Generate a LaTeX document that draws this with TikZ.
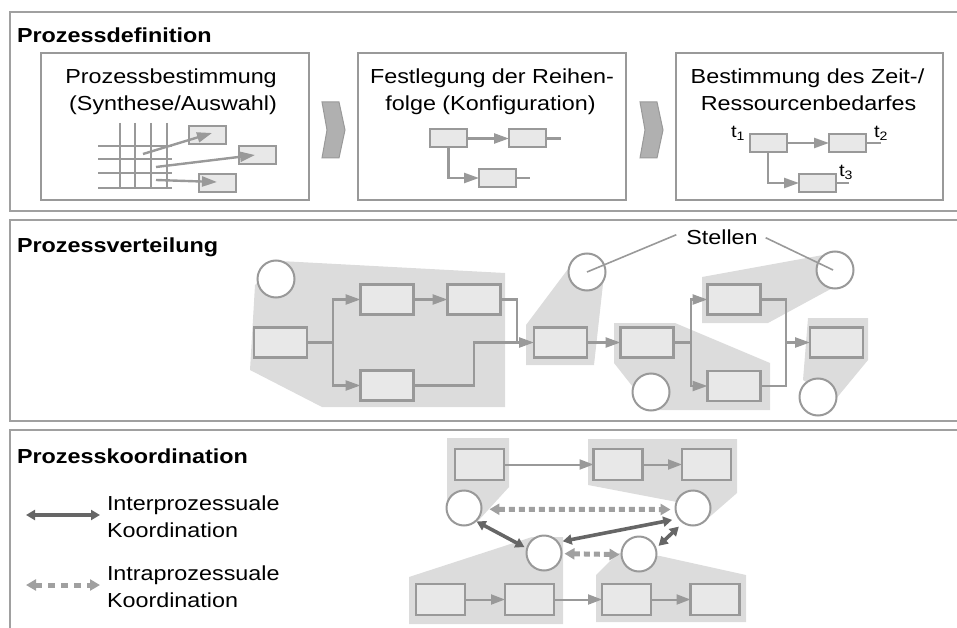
\documentclass[tikz,border=0pt]{standalone}
\usepackage{fontspec}
\setmainfont{Liberation Sans}[FakeStretch=1.15]
\usetikzlibrary{arrows.meta}
\definecolor{frame}{HTML}{A0A0A0}
\definecolor{edge}{HTML}{999999}
\definecolor{boxfill}{HTML}{E8E8E8}
\definecolor{zonefill}{HTML}{DCDCDC}
\definecolor{chevfill}{HTML}{B0B0B0}
\definecolor{darkline}{HTML}{666666}
\definecolor{lightline}{HTML}{A0A0A0}
\begin{document}
\begin{tikzpicture}[x=1pt,y=-1pt,
  every node/.style={inner sep=0pt,outer sep=0pt},
  txt/.style={font=\fontsize{20.3}{27}\selectfont,anchor=base},
  ltxt/.style={font=\fontsize{20.3}{27}\selectfont,anchor=base west},
  title/.style={font=\fontsize{20.3}{27}\selectfont\bfseries,anchor=base west},
  tlabel/.style={font=\fontsize{17.5}{20}\selectfont,anchor=base west},
  panel/.style={draw=frame,line width=2pt},
  stage/.style={draw=edge,line width=2pt,fill=white},
  mini/.style={draw=edge,line width=2pt,fill=boxfill,minimum width=37pt,minimum height=18pt},
  task/.style={draw=edge,line width=2.6pt,fill=boxfill,minimum width=53pt,minimum height=30pt},
  ctask/.style={draw=edge,line width=2.4pt,fill=boxfill,minimum width=49pt,minimum height=31pt},
  place/.style={circle,draw=edge,line width=2pt,fill=white,minimum size=37pt},
  cplace/.style={circle,draw=edge,line width=2pt,fill=white,minimum size=35pt},
  zone/.style={fill=zonefill},
  chevron/.style={fill=chevfill,draw=edge,line width=1pt},
  gridline/.style={draw=edge,line width=2pt},
  ln/.style={draw=edge,line width=2.4pt},
  arr/.style={ln,-{Triangle[length=15pt,width=10pt]}},
  carr/.style={draw=edge,line width=2pt,-{Triangle[length=14pt,width=10pt]}},
  lead/.style={draw=edge,line width=1.6pt},
  inter/.style={draw=darkline,line width=3.6pt,
    {Triangle[length=9pt,width=10pt]}-{Triangle[length=9pt,width=10pt]}},
  intra/.style={draw=lightline,line width=5pt,dash pattern=on 6pt off 4pt,
    {Triangle[length=10pt,width=11pt]}-{Triangle[length=10pt,width=11pt]}},
]
\useasboundingbox (0,0) rectangle (957,628);

% ---------- panel frames (open to the right) ----------
\draw[panel] (10,12) rectangle (980,211);
\draw[panel] (10,220) rectangle (980,421);
\draw[panel] (10,430) rectangle (980,650);

\node[title] (h1) at (17,43) {Prozessdefinition};
\node[title] (h2) at (17,252) {Prozessverteilung};
\node[title] (h3) at (17,463.5) {Prozesskoordination};

% ---------- Prozessdefinition ----------
\node[stage,minimum width=268pt,minimum height=147pt] (s1) at (175,126.5) {};
\node[stage,minimum width=268pt,minimum height=147pt] (s2) at (492,126.5) {};
\node[stage,minimum width=267pt,minimum height=147pt] (s3) at (809.5,126.5) {};

\node[txt] (s1a) at (171,83.5) {Prozessbestimmung};
\node[txt] (s1b) at (173,110.5) {(Synthese/Auswahl)};
\node[txt] (s2a) at (492,83.5) {Festlegung der Reihen-};
\node[txt] (s2b) at (490.5,110.5) {folge (Konfiguration)};
\node[txt] (s3a) at (807.5,83.5) {Bestimmung des Zeit-/};
\node[txt] (s3b) at (808.5,110.5) {Ressourcenbedarfes};

% chevrons between the stages
\draw[chevron] (322,102) -- (339,102) -- (345,130) -- (339,158) -- (322,158) -- (327,130) -- cycle;
\draw[chevron] (640,102) -- (657,102) -- (663,130) -- (657,158) -- (640,158) -- (645,130) -- cycle;

% selection grid
\foreach \x in {120,135,151,167} \draw[gridline] (\x,123) -- (\x,188);
\foreach \y in {146,159,173,188} \draw[gridline] (98,\y) -- (172,\y);
\node[mini] (mA) at (207,135) {};
\node[mini] (mB) at (257,155) {};
\node[mini] (mC) at (217,183) {};
\coordinate (g1) at (143,154);
\coordinate (g2) at (156,167);
\coordinate (g3) at (156,180);
\draw[arr] (g1) -- ([xshift=5pt,yshift=2pt]mA.center);
\draw[arr] (g2) -- ([xshift=-2pt]mB.center);
\draw[arr] (g3) -- ([yshift=1pt]mC.center);

% sequence
\node[mini] (k1) at (448.5,138.5) {};
\node[mini] (k2) at (527.5,138.5) {};
\node[mini] (k3) at (497.5,178) {};
\draw[arr] (k1) -- (k2);
\draw[ln] (k2.east) -- ++(15,0);
\draw[arr] (k1.south) |- (k3.west);
\draw[ln] (k3.east) -- ++(14,0);

% timing
\node[mini] (m1) at (768,143) {};
\node[mini] (m2) at (847.5,143) {};
\node[mini] (m3) at (817.5,183) {};
\draw[arr] (m1) -- (m2);
\draw[ln] (m2.east) -- ++(15,0);
\draw[arr] (m1.south) |- (m3.west);
\draw[ln] (m3.east) -- ++(13,0);
\node[tlabel] (tt1) at (731,138) {t\textsubscript{1}};
\node[tlabel] (tt2) at (874,138) {t\textsubscript{2}};
\node[tlabel] (tt3) at (839,177) {t\textsubscript{3}};

% ---------- Prozessverteilung ----------
\fill[zone] (250,370) -- (255,285) -- (280,261) -- (505,273) -- (505,407) -- (322,407) -- cycle;
\fill[zone] (526,365) -- (526,325) -- (571,265) -- (604,275) -- (594,365) -- cycle;
\fill[zone] (614,323) -- (675,323) -- (770,363) -- (770,410) -- (651,410) -- (614,363) -- cycle;
\fill[zone] (702,277) -- (823,255) -- (838,285) -- (768,323) -- (702,323) -- cycle;
\fill[zone] (808,318) -- (868,318) -- (868,360) -- (835,400) -- (803,380) -- cycle;

\node[task] (b1) at (280.5,342.5) {};
\node[task] (b2) at (387,299.5) {};
\node[task] (b3) at (474,299.5) {};
\node[task] (b4) at (387,385.5) {};
\node[task] (b5) at (560.5,342.5) {};
\node[task] (b6) at (647,342.5) {};
\node[task] (b7) at (734,299.5) {};
\node[task] (b8) at (734,386) {};
\node[task] (b9) at (836.5,342.5) {};

\coordinate (j1) at (333,342.5);
\coordinate (j2) at (517,342.5);
\coordinate (j3) at (474,342.5);
\coordinate (j4) at (691,342.5);
\coordinate (j5) at (786,342.5);
\draw[ln] (b1.east) -- (j1);
\draw[arr] (j1) |- (b2.west);
\draw[arr] (j1) |- (b4.west);
\draw[arr] (b2) -- (b3);
\draw[ln] (b3.east) -| (j2);
\draw[ln] (b4.east) -| (j3) -- (j2);
\draw[arr] (j2) -- (b5.west);
\draw[arr] (b5) -- (b6);
\draw[ln] (b6.east) -- (j4);
\draw[arr] (j4) |- (b7.west);
\draw[arr] (j4) |- (b8.west);
\draw[ln] (b7.east) -| (j5);
\draw[ln] (b8.east) -| (j5);
\draw[arr] (j5) -- (b9.west);

\node[place] (c1) at (276,279) {};
\node[place] (c2) at (587,272) {};
\node[place] (c3) at (835,270) {};
\node[place] (c4) at (651,392) {};
\node[place] (c5) at (818,397) {};

\node[txt] (stl) at (722,244) {Stellen};
\draw[lead] ([xshift=-10pt,yshift=2pt]stl.west) -- (c2.center);
\draw[lead] ([xshift=8pt,yshift=-1pt]stl.east) -- ([xshift=-2pt]c3.center);

% ---------- Prozesskoordination ----------
\coordinate (la) at (26,515);
\coordinate (lb) at (100,515);
\draw[inter] (la) -- (lb);
\node[ltxt] (lt1) at (107,510) {Interprozessuale};
\node[ltxt] (lt2) at (107,537.5) {Koordination};
\coordinate (lc) at (26,585);
\coordinate (ld) at (100,585);
\draw[intra,dash pattern=on 7pt off 6pt] (lc) -- (ld);
\node[ltxt] (lt3) at (107,580) {Intraprozessuale};
\node[ltxt] (lt4) at (107,607.5) {Koordination};

\fill[zone] (447,438) -- (509,438) -- (509,487) -- (478,521) -- (447,508) -- cycle;
\fill[zone] (588,439) -- (737,439) -- (737,493) -- (706,520) -- (677,502) -- (588,485) -- cycle;
\fill[zone] (409,577) -- (532,537) -- (563,537) -- (563,624) -- (409,624) -- cycle;
\fill[zone] (596,575) -- (618,553) -- (660,556) -- (746,575) -- (746,622) -- (596,622) -- cycle;

\node[ctask] (p1) at (479.5,464.5) {};
\node[ctask] (p2) at (618,464.5) {};
\node[ctask] (p3) at (706.5,464.5) {};
\node[ctask] (q1) at (440.5,599.5) {};
\node[ctask] (q2) at (529.5,599.5) {};
\node[ctask] (q3) at (626.5,599.5) {};
\node[ctask] (q4) at (715,599.5) {};
\draw[carr] (p1) -- (p2);
\draw[carr] (p2) -- (p3);
\draw[carr] (q1) -- (q2);
\draw[carr] (q2) -- (q3);
\draw[carr] (q3) -- (q4);

\node[cplace] (ca) at (464,508) {};
\node[cplace] (cb) at (693,508) {};
\node[cplace] (cc) at (544,553) {};
\node[cplace] (cd) at (639,554) {};

\draw[intra,shorten <=8pt,shorten >=5pt] (ca.-4) -- (cb.185);
\draw[intra,shorten <=3pt,shorten >=2pt] (cc.-2) -- (cd.182);
\draw[inter,shorten <=1pt,shorten >=3pt] (ca.-48) -- (cc.165);
\draw[inter,shorten <=5pt,shorten >=7pt] (cc.38) -- (cb.-143);
\draw[inter,shorten <=4pt,shorten >=6pt] (cd.18) -- (cb.-124);
\end{tikzpicture}
\end{document}
